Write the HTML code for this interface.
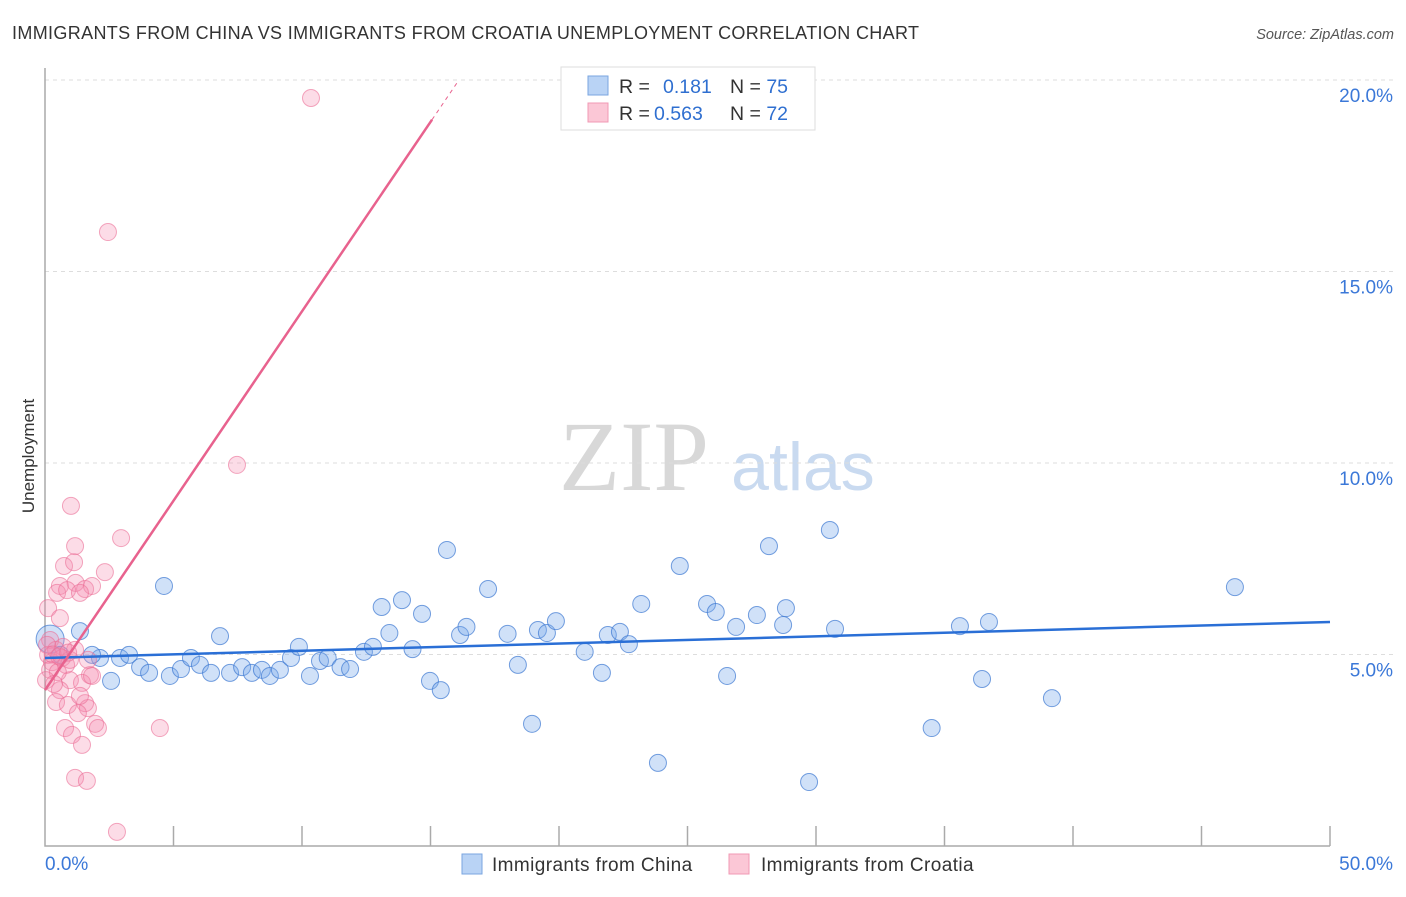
<!DOCTYPE html>
<html><head><meta charset="utf-8"><style>
body{margin:0;background:#fff;font-family:"Liberation Sans",sans-serif}
svg text{font-family:"Liberation Sans",sans-serif}
</style></head><body>
<svg id="c" width="1406" height="892" viewBox="0 0 1406 892">
<text x="12" y="39" font-size="18" fill="#333" letter-spacing="0.35">IMMIGRANTS FROM CHINA VS IMMIGRANTS FROM CROATIA UNEMPLOYMENT CORRELATION CHART</text>
<text x="1394" y="39" font-size="14.5" fill="#555" font-style="italic" text-anchor="end">Source: ZipAtlas.com</text>
<text x="634" y="490" font-size="100" fill="#d8d8d8" style="font-family:'Liberation Serif',serif" text-anchor="middle">ZIP</text>
<text x="803" y="490" font-size="68" fill="#c9daf0" text-anchor="middle">atlas</text>
<text transform="translate(34,456) rotate(-90)" font-size="17" fill="#333" text-anchor="middle">Unemployment</text>
<g id="grid"></g>
<g id="marks"></g>
<rect x="561" y="67" width="254" height="63" fill="#fff" stroke="#ddd"/>
<rect x="588" y="76" width="20" height="19" fill="#b9d3f5" stroke="#7aa6e0"/>
<rect x="588" y="103" width="20" height="19" fill="#fbc7d6" stroke="#f09ab4"/>
<text x="619" y="93" font-size="19.5" fill="#333">R = <tspan fill="#2f6fd0" x="663">0.181</tspan><tspan fill="#333" x="730">N = </tspan><tspan fill="#2f6fd0">75</tspan></text>
<text x="619" y="120" font-size="19.5" fill="#333">R = <tspan fill="#2f6fd0" x="654">0.563</tspan><tspan fill="#333" x="730">N = </tspan><tspan fill="#2f6fd0">72</tspan></text>
<rect x="462" y="854" width="20" height="20" fill="#b9d3f5" stroke="#7aa6e0"/>
<text x="492" y="871" font-size="19" letter-spacing="0.4" fill="#333">Immigrants from China</text>
<rect x="729" y="854" width="20" height="20" fill="#fbc7d6" stroke="#f09ab4"/>
<text x="761" y="871" font-size="19" letter-spacing="0.4" fill="#333">Immigrants from Croatia</text>
<text x="45" y="870" font-size="19" fill="#3b78d8">0.0%</text>
<text x="1393" y="870" font-size="19" fill="#3b78d8" text-anchor="end">50.0%</text>
</svg>
<script>
const yTicks=[5,10,15,20];
const yTickLabels=["5.0%","10.0%","15.0%","20.0%"];
const chinaX=[0.2,0.6,1.36,2.14,1.83,2.57,2.92,3.27,3.7,4.05,4.63,4.86,5.29,5.68,6.03,6.46,6.81,7.2,7.67,8.05,8.44,8.75,9.14,9.57,9.88,10.31,10.7,11.0,11.5,11.87,12.41,12.76,13.1,13.4,13.89,14.3,14.67,14.98,15.4,15.64,16.15,16.4,17.24,18.0,18.4,18.95,19.18,19.53,19.88,21.0,21.67,21.9,22.37,22.72,23.2,23.85,24.7,25.76,26.1,26.54,26.89,27.7,28.17,28.72,28.83,29.73,30.54,30.74,34.5,35.6,36.46,36.73,39.18,46.3];
const chinaY=[5.4,4.99,5.61,4.91,4.99,4.31,4.91,4.99,4.67,4.52,6.79,4.44,4.62,4.91,4.73,4.52,5.48,4.52,4.67,4.52,4.6,4.44,4.6,4.91,5.2,4.44,4.83,4.91,4.67,4.62,5.07,5.2,6.24,5.56,6.42,5.14,6.06,4.31,4.07,7.73,5.51,5.72,6.71,5.54,4.73,3.19,5.64,5.56,5.87,5.07,4.52,5.51,5.59,5.27,6.32,2.17,7.31,6.32,6.11,4.44,5.72,6.03,7.83,5.77,6.21,1.67,8.25,5.67,3.08,5.74,4.36,5.85,3.86,6.76];
const croatiaX=[10.35,2.45,7.47,1.01,2.96,1.17,0.74,1.13,2.33,0.58,1.19,1.56,1.83,0.47,0.86,1.36,0.12,0.58,0.2,1.67,1.75,0.97,1.44,0.58,0.43,0.89,1.56,1.67,1.28,0.78,1.05,1.95,2.06,1.44,4.47,1.17,1.63,2.8,0.12,0.27,0.43,0.66,0.82,0.2,0.5,0.04,0.35,0.7,0.97,0.08,1.17,1.83,1.36,0.3,0.55,0.9];
const croatiaY=[19.53,16.03,9.95,8.88,8.04,7.83,7.31,7.41,7.15,6.79,6.87,6.71,6.79,6.61,6.68,6.61,6.21,5.95,5.38,4.86,4.46,4.33,4.26,4.07,3.76,3.68,3.73,3.6,3.47,3.08,2.9,3.19,3.08,2.64,3.08,1.78,1.7,0.37,4.99,4.8,5.12,4.91,4.73,4.6,4.54,4.33,4.23,5.2,4.86,5.25,5.12,4.44,3.92,5.0,4.95,5.05];
const chinaTrend=[4.91,5.85];
const croatiaTrend=[4.07,0.989];
const X=v=>45+v*25.7, Y=v=>846-v*38.3;
const NS="http://www.w3.org/2000/svg";
function mk(t,a,p){const e=document.createElementNS(NS,t);for(const k in a)e.setAttribute(k,a[k]);p.appendChild(e);return e;}
const g=document.getElementById('grid'), m=document.getElementById('marks');
yTicks.forEach((t,i)=>{
 const l=mk('line',{x1:45,x2:1395,y1:Y(t),y2:Y(t),stroke:'#ddd','stroke-dasharray':'4,4'},g);
 
 
 const tx=mk('text',{x:1393,y:Y(t)+22,'font-size':19,fill:'#3b78d8','text-anchor':'end'},g);
 tx.textContent=yTickLabels[i];
 
 
});
const ax=mk('path',{d:`M45 68V${Y(0)}H1330`,fill:'none',stroke:'#aaa','stroke-width':1.5},g);


for(let v=5;v<=50;v+=5){
 const t=mk('line',{x1:X(v),x2:X(v),y1:826,y2:846,stroke:'#aaa','stroke-width':1.5},g);
 
 
}
chinaX.forEach((x,i)=>{
 const c=mk('circle',{cx:X(x),cy:Y(chinaY[i]),r:i==0?14:8.5,fill:'rgba(120,170,235,0.35)',stroke:'rgba(60,120,210,0.7)','stroke-width':1},m);
 
 
});
croatiaX.forEach((x,i)=>{
 const c=mk('circle',{cx:X(x),cy:Y(croatiaY[i]),r:8.5,fill:'rgba(245,140,175,0.3)',stroke:'rgba(235,110,150,0.6)','stroke-width':1},m);
 
 
});
const bl=mk('line',{x1:X(0),y1:Y(chinaTrend[0]),x2:X(50),y2:Y(chinaTrend[1]),stroke:'#2a6fd6','stroke-width':2.5},m);


const pl=mk('line',{x1:X(0),y1:Y(croatiaTrend[0]),x2:X(15.06),y2:Y(croatiaTrend[0]+croatiaTrend[1]*15.06),stroke:'#e8628e','stroke-width':2.5},m);


const pd=mk('line',{x1:X(15.06),y1:Y(croatiaTrend[0]+croatiaTrend[1]*15.06),x2:X(16.1),y2:Y(croatiaTrend[0]+croatiaTrend[1]*16.1),stroke:'#e8628e','stroke-width':1,'stroke-dasharray':'4,4'},m);


</script>
</body></html>
